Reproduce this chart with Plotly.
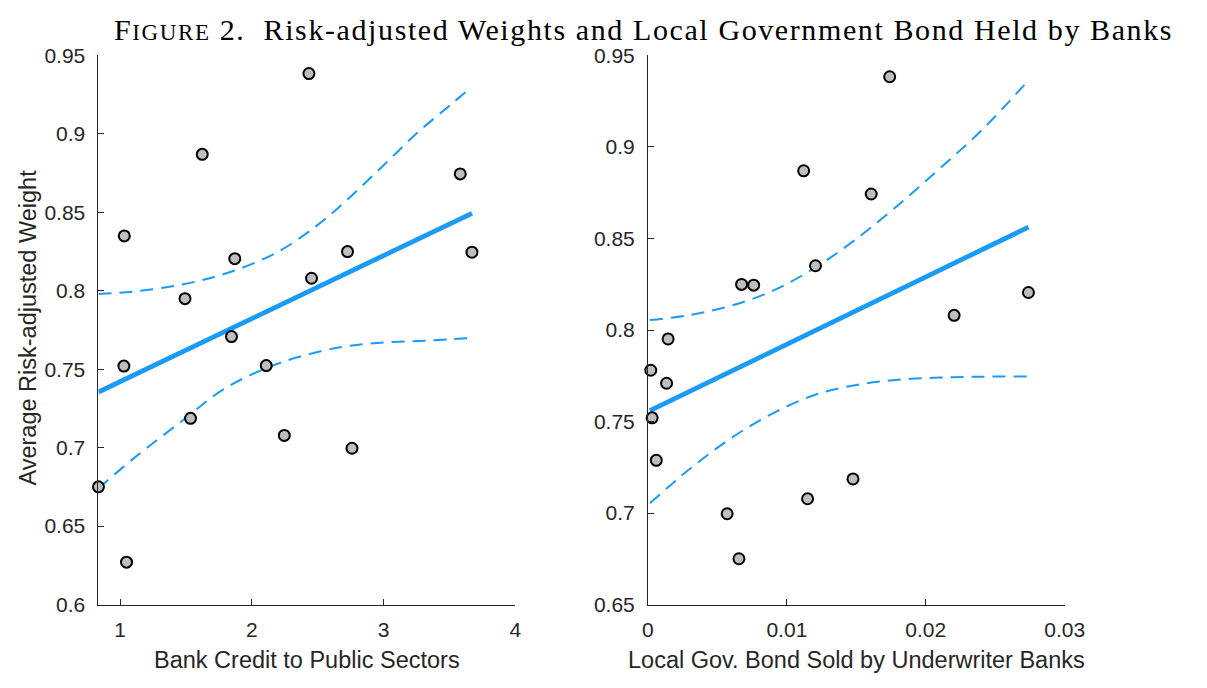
import plotly.graph_objects as go

# Left panel: bank credit to public sectors vs average risk-adjusted weight
credit_x = [2.433, 1.623, 3.582, 1.031, 1.870, 2.726, 3.671, 2.453, 1.492,
            1.845, 1.028, 2.109, 1.534, 2.246, 2.760, 0.835, 1.048]
credit_y = [0.9385, 0.887, 0.8745, 0.835, 0.8205, 0.825, 0.8246, 0.808, 0.795,
            0.7708, 0.752, 0.7523, 0.7187, 0.7078, 0.6996, 0.675, 0.627]
credit_fit_x = [0.835, 3.671]
credit_fit_y = [0.7355, 0.8494]
credit_band_x = [0.835, 1.1, 1.469, 1.8, 2.18, 2.5, 2.749, 3.0, 3.26, 3.5, 3.671]
credit_band_hi = [0.798, 0.7995, 0.804, 0.811, 0.824, 0.842, 0.860, 0.880, 0.901, 0.918, 0.930]
credit_band_lo = [0.674, 0.693, 0.717, 0.738, 0.753, 0.761, 0.765, 0.767, 0.768, 0.769, 0.770]

# Right panel: local gov. bond sold by underwriter banks vs risk-adjusted weight
bond_x = [0.0174, 0.01121, 0.01607, 0.01206, 0.00674, 0.00761, 0.02739, 0.02204, 0.00145,
          0.0002, 0.00134, 0.0003, 0.0006, 0.01476, 0.01149, 0.0057, 0.00655]
bond_y = [0.9384, 0.887, 0.8743, 0.8351, 0.8249, 0.8245, 0.8205, 0.808, 0.7951,
          0.778, 0.7709, 0.752, 0.7288, 0.7186, 0.7078, 0.6996, 0.675]
bond_fit_x = [0.00014, 0.02739]
bond_fit_y = [0.7559, 0.8562]
bond_band_x = [0.00014, 0.003, 0.006, 0.009, 0.012, 0.015, 0.018, 0.021, 0.024, 0.02739]
bond_band_hi = [0.8054, 0.8082, 0.8133, 0.8215, 0.8339, 0.8498, 0.8682, 0.8882, 0.9090, 0.9364]
bond_band_lo = [0.7054, 0.7240, 0.7410, 0.7545, 0.7645, 0.7700, 0.7728, 0.7740, 0.7745, 0.7746]

left_xticks = [1, 2, 3, 4]
left_xtext = ["1", "2", "3", "4"]
left_yticks = [0.6, 0.65, 0.7, 0.75, 0.8, 0.85, 0.9, 0.95]
left_ytext = ["0.6", "0.65", "0.7", "0.75", "0.8", "0.85", "0.9", "0.95"]
right_xticks = [0, 0.01, 0.02, 0.03]
right_xtext = ["0", "0.01", "0.02", "0.03"]
right_yticks = [0.65, 0.7, 0.75, 0.8, 0.85, 0.9, 0.95]
right_ytext = ["0.65", "0.7", "0.75", "0.8", "0.85", "0.9", "0.95"]

BLUE = "#1a9bf7"
INK = "#262626"
W, H = 1207, 688

fig = go.Figure()


def add_panel(xs, ys, fx, fy, bx, bhi, blo, xa, ya):
    for band in (bhi, blo):
        fig.add_trace(go.Scatter(x=bx, y=band, mode="lines", line_shape="spline",
                                 line=dict(color=BLUE, width=2, dash="13px,8px"),
                                 xaxis=xa, yaxis=ya, hoverinfo="skip"))
    fig.add_trace(go.Scatter(x=fx, y=fy, mode="lines",
                             line=dict(color=BLUE, width=4.8),
                             xaxis=xa, yaxis=ya))
    fig.add_trace(go.Scatter(x=xs, y=ys, mode="markers", cliponaxis=False,
                             marker=dict(size=11, color="#bebebe",
                                         line=dict(color="black", width=2)),
                             xaxis=xa, yaxis=ya))


add_panel(credit_x, credit_y, credit_fit_x, credit_fit_y,
          credit_band_x, credit_band_hi, credit_band_lo, "x", "y")
add_panel(bond_x, bond_y, bond_fit_x, bond_fit_y,
          bond_band_x, bond_band_hi, bond_band_lo, "x2", "y2")

axis_style = dict(showline=True, linecolor=INK, linewidth=1, ticks="inside",
                  ticklen=6, tickcolor=INK, tickwidth=1, showgrid=False,
                  zeroline=False, mirror=False,
                  tickfont=dict(family="Liberation Sans", size=21, color=INK))

y_top = 1 - 45 / H
y_bot = 1 - 613 / H
lx0, lx1 = 94.5 / W, 520.5 / W
rx0, rx1 = 656.1 / W, 1082 / W

fig.update_layout(
    width=W, height=H,
    margin=dict(l=0, r=0, t=0, b=0),
    paper_bgcolor="white", plot_bgcolor="white",
    showlegend=False,
    xaxis=dict(domain=[lx0, lx1], range=[0.835, 4], tickvals=left_xticks,
               ticktext=left_xtext, anchor="y", ticklabelstandoff=6, **axis_style),
    yaxis=dict(domain=[y_bot, y_top], range=[0.6, 0.95], tickvals=left_yticks,
               ticktext=left_ytext, anchor="x", ticklabelstandoff=8, **axis_style),
    xaxis2=dict(domain=[rx0, rx1], range=[0, 0.03], tickvals=right_xticks,
                ticktext=right_xtext, anchor="y2", ticklabelstandoff=6, **axis_style),
    yaxis2=dict(domain=[y_bot, y_top], range=[0.65, 0.95], tickvals=right_yticks,
                ticktext=right_ytext, anchor="x2", ticklabelstandoff=8, **axis_style),
)

label_font = dict(family="Liberation Sans", size=23.5, color=INK)
fig.add_annotation(text="Bank Credit to Public Sectors", xref="paper", yref="paper",
                   x=(lx0 + lx1) / 2, y=1 - 670 / H, showarrow=False,
                   xanchor="center", yanchor="middle", font=label_font)
fig.add_annotation(text="Local Gov. Bond Sold by Underwriter Banks", xref="paper",
                   yref="paper", x=(rx0 + rx1) / 2, y=1 - 670 / H, showarrow=False,
                   xanchor="center", yanchor="middle", font=label_font)
fig.add_annotation(text="Average Risk-adjusted Weight", xref="paper", yref="paper",
                   x=23 / W, y=1 - 327 / H, showarrow=False, textangle=-90,
                   xanchor="center", yanchor="middle", font=label_font)

# Figure caption with small-caps "Figure"
fig.add_annotation(
    text='<span style="letter-spacing:1.6px">F<span style="font-size:23px">IGURE</span>'
         ' 2.  Risk-adjusted Weights and Local Government Bond Held by Banks</span>',
    xref="paper", yref="paper", x=652 / W, y=1 - 18 / H, showarrow=False,
    xanchor="center", yanchor="middle",
    font=dict(family="Liberation Serif", size=30, color="black"))

fig.write_html("out.html")
